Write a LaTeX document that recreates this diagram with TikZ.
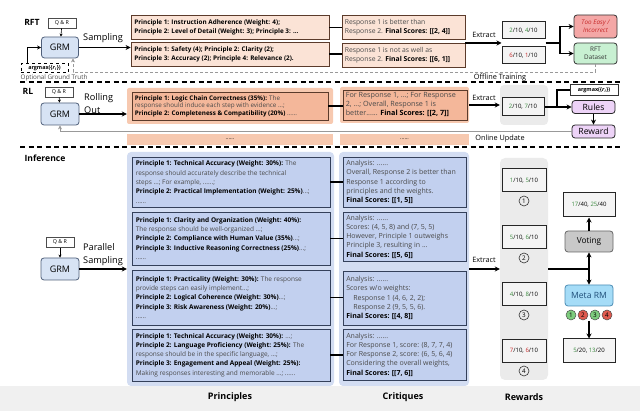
\documentclass[tikz,border=0pt]{standalone}
\usepackage{fontspec}
\setmainfont{Open Sans}
\usetikzlibrary{arrows.meta,calc}
\definecolor{grmfill}{HTML}{D7E3F4}
\definecolor{grmdraw}{HTML}{4F5F7A}
\definecolor{peach}{HTML}{FBE3D6}
\definecolor{bdraw}{HTML}{5B3B2B}
\definecolor{salmon}{HTML}{F4B79A}
\definecolor{salmonlt}{HTML}{F7C9B0}
\definecolor{panelblue}{HTML}{D3DDF2}
\definecolor{boxblue}{HTML}{C2D0EF}
\definecolor{bluedraw}{HTML}{34405A}
\definecolor{scorefill}{HTML}{F4F4F4}
\definecolor{panelgray}{HTML}{EBEBEB}
\definecolor{redbox}{HTML}{F4A7A6}
\definecolor{redtxt}{HTML}{C62828}
\definecolor{greenbox}{HTML}{C8F0D2}
\definecolor{greentxt}{HTML}{3A8A3E}
\definecolor{purp}{HTML}{EDD3F7}
\definecolor{votegray}{HTML}{C8C8C8}
\definecolor{metablue}{HTML}{A5DCF7}
\definecolor{metadraw}{HTML}{4C8DB5}
\definecolor{metatxt}{HTML}{1F4E79}
\definecolor{txtgray}{HTML}{4A4A4A}
\definecolor{bandgray}{HTML}{F0F0F0}
\definecolor{dotgreen}{HTML}{7DCB7D}
\definecolor{dotred}{HTML}{E05A4F}
\newcommand{\myfs}[2]{\fontsize{#1}{#2}\selectfont}
\newcommand{\gn}[1]{\textcolor{greentxt}{#1}}
\newcommand{\rd}[1]{\textcolor{redtxt}{#1}}
\newcommand{\bk}[1]{\textbf{\color{black}#1}}
\tikzset{
  arr/.style={line width=1.1pt, -{Stealth[length=5pt,width=5pt]}},
  thinarr/.style={line width=0.6pt, -{Stealth[length=3pt,width=3pt]}},
  ln/.style={line width=1.1pt},
  grayln/.style={draw=gray!80, line width=0.6pt, -{Stealth[length=4pt,width=4pt]}},
  qr/.style={draw=black!70, line width=0.6pt, fill=white, minimum width=28pt, minimum height=10pt, inner sep=0pt, font=\myfs{5.3}{6}},
  grm/.style={draw=grmdraw, fill=grmfill, line width=0.8pt, rounded corners=3pt, minimum width=37pt, minimum height=21pt, inner sep=0pt, font=\myfs{9}{10}},
  sect/.style={font=\bfseries\myfs{8.6}{10}, inner sep=0pt},
  biglbl/.style={font=\myfs{9.2}{12.5}, align=left, anchor=west, inner sep=0pt},
  midlbl/.style={font=\myfs{7.3}{8.5}, inner sep=0pt},
  pkbox/.style={draw=bdraw, fill=peach, line width=0.8pt, inner sep=0pt},
  txt/.style={anchor=west, align=left, inner sep=0pt, text=txtgray},
  score/.style={draw=black!85, fill=scorefill, line width=1pt, inner sep=0pt, font=\myfs{6}{7}},
  sepline/.style={line width=1.1pt, dash pattern=on 5pt off 3.5pt},
  pb/.style={draw=bluedraw, fill=boxblue, line width=0.8pt, minimum width=198pt, inner sep=0pt},
  cb/.style={draw=bluedraw, fill=boxblue, line width=0.8pt, minimum width=123pt, inner sep=0pt},
  ptxt/.style={txt, font=\myfs{6.5}{9.3}},
  ctxt/.style={txt, font=\myfs{7}{9.3}},
  numc/.style={circle, draw=black!80, line width=0.6pt, minimum size=10pt, inner sep=0pt, font=\myfs{6.3}{7}},
  dot/.style={circle, draw=black!70, line width=0.5pt, minimum size=10pt, inner sep=0pt, font=\myfs{6.3}{7}},
}
\begin{document}
\begin{tikzpicture}[x=1pt,y=-1pt]
\useasboundingbox (0,0) rectangle (640,411);
\fill[bandgray] (0,386) rectangle (640,411);

% ---------------- RFT ----------------
\node[sect] (rftlbl) at (32,22) {RFT};
\node[qr] (qr1) at (62,23) {Q \& R};
\node[grm] (grm1) at (60,47.5) {GRM};
\node[draw=black, dashed, line width=0.7pt, fill=white, minimum width=47pt, minimum height=9.5pt, inner sep=0pt, font=\bfseries\myfs{5.4}{6}] (am1) at (44.5,68) {argmax(\{\textit{r}\textsubscript{\textit{i}}\})};
\node[font=\myfs{6.3}{7}, text=txtgray, inner sep=0pt] (ogt) at (54,77.5) {Optional Ground Truth};
\node[biglbl] (samp) at (83,38) {Sampling};
\draw[thinarr] (qr1) -- (grm1);
\draw[line width=0.8pt, -{Stealth[length=4pt,width=4pt]}] ([xshift=-17pt]am1.north) |- (grm1.west);

\node[pkbox, minimum width=198pt, minimum height=23.5pt] (rp1) at (230,27.5) {};
\node[txt, text=black, font=\bfseries\myfs{6.35}{9}] (rp1t) at ([xshift=3.5pt]rp1.west) {Principle 1: Instruction Adherence (Weight: 4);\\Principle 2: Level of Detail (Weight: 3); Principle 3: ...};
\node[pkbox, minimum width=198pt, minimum height=24pt] (rp2) at (230,54) {};
\node[txt, text=black, font=\bfseries\myfs{6.35}{9}] (rp2t) at ([xshift=3.5pt]rp2.west) {Principle 1: Safety (4); Principle 2: Clarity (2);\\Principle 3: Accuracy (2); Principle 4: Relevance (2).};
\draw[arr] (grm1.east) -- (grm1.east -| rp2.west);

\node[pkbox, minimum width=123pt, minimum height=24pt] (rc1) at (403.5,27) {};
\node[txt, font=\myfs{6.8}{9}] (rc1t) at ([xshift=3pt]rc1.west) {Response 1 is better than\\Response 2. \bk{Final Scores: [[2, 4]]}};
\node[pkbox, minimum width=123pt, minimum height=24pt] (rc2) at (403.5,55) {};
\node[txt, font=\myfs{6.8}{9}] (rc2t) at ([xshift=3pt]rc2.west) {Response 1 is not as well as\\Response 2. \bk{Final Scores: [[6, 1]]}};
\draw[ln] (rp1.east) -- (rp1.east -| rc1.west);
\draw[ln] (rp2.east) -- (rp2.east -| rc2.west);

\node[score, minimum width=43pt, minimum height=17pt] (rs1) at (523.5,30.5) {\gn{2}/10, \gn{4}/10};
\node[score, minimum width=43pt, minimum height=17pt] (rs2) at (523.5,55.5) {\rd{6}/10, \rd{1}/10};
\coordinate (rgapw) at ($(rs1.south west)!0.5!(rs2.north west)$);
\coordinate (rgape) at ($(rs1.south east)!0.5!(rs2.north east)$);
\coordinate (rcgap) at ($(rc1.south east)!0.5!(rc2.north east)$);
\node[midlbl] (ext1) at (484,35) {Extract};
\draw[arr] (rcgap |- rgapw) -- (rgapw);
\node[draw=black!80, fill=redbox, rounded corners=3pt, line width=0.8pt, minimum width=43pt, minimum height=23pt, align=center, inner sep=0pt, font=\itshape\myfs{6.3}{8.5}, text=redtxt] (easy) at (595.5,26.5) {Too Easy /\\Incorrect};
\node[draw=black!80, fill=greenbox, rounded corners=3pt, line width=0.8pt, minimum width=43pt, minimum height=21pt, align=center, inner sep=0pt, font=\myfs{6.3}{8.5}, text=black!80] (rftd) at (595.5,53.5) {RFT\\Dataset};
\coordinate (rj) at (560,43);
\draw[ln] (rgape) -- (rj);
\draw[arr] (rj) |- (easy.west);
\draw[arr] (rj) |- (rftd.west);
\draw[grayln, densely dashed] (rftd.south) -- ++(0,7.5) -| ([xshift=13pt]grm1.south);
\node[midlbl] (offt) at (500,77.5) {Offline Training};

\draw[sepline] (20,82) -- (622,82);

% ---------------- RL ----------------
\node[sect] (rllbl) at (28,91) {RL};
\node[qr] (qr2) at (59,92) {Q \& R};
\node[grm, minimum width=38pt, minimum height=22pt] (grm2) at (60,114) {GRM};
\draw[thinarr] (qr2) -- (grm2);
\node[biglbl] (roll) at (84,103.5) {Rolling\\Out};
\node[fill=salmonlt, rounded corners=2pt, minimum width=206pt, minimum height=36pt] (rlpp) at (230,106) {};
\node[draw=bdraw, fill=salmon, line width=0.8pt, minimum width=196pt, minimum height=28pt] (rlp) at (230,106) {};
\node[txt, font=\myfs{6.3}{7.6}] (rlpt) at ([xshift=3pt]rlp.west) {\bk{Principle 1: Logic Chain Correctness (35\%):} The\\response should induce each step with evidence ...;\\\bk{Principle 2: Completeness \& Compatibility (20\%)} ......};
\draw[arr] (grm2.east) -- (grm2.east -| rlpp.west);
\node[fill=salmonlt, rounded corners=2pt, minimum width=129pt, minimum height=36pt] (rlcc) at (404.5,105) {};
\node[draw=bdraw, fill=salmon, line width=0.8pt, minimum width=124pt, minimum height=30pt] (rlc) at (405,105) {};
\node[txt, font=\myfs{7.2}{9}] (rlct) at ([xshift=3pt]rlc.west) {For Response 1, ...; For Response\\2, ...; Overall, Response 1 is\\better...... \bk{Final Scores: [[2, 7]]}};
\draw[ln] (rlp.east) -- (rlp.east -| rlc.west);
\node[fill=salmonlt, minimum width=206pt, minimum height=11pt, inner sep=0pt, font=\myfs{5.5}{7}] (rlps) at (230,139.5) {......};
\node[fill=salmonlt, minimum width=129pt, minimum height=11pt, inner sep=0pt, font=\myfs{5.5}{7}] (rlcs) at (404.5,139.5) {......};

\node[midlbl] (ext2) at (484,98) {Extract};
\node[fill=panelgray, rounded corners=4pt, minimum width=48pt, minimum height=40pt] (rlsp) at (524,105) {};
\node[score, minimum width=42pt, minimum height=18pt] (rls) at (523,107) {\gn{2}/10, \gn{7}/10};
\draw[arr] (rlcc.east) -- (rlsp.west);
\node[draw=black!80, line width=0.7pt, fill=white, minimum width=48pt, minimum height=11pt, inner sep=0pt, font=\bfseries\myfs{5.4}{6}] (am2) at (594,90) {argmax(\{\textit{r}\textsubscript{\textit{i}}\})};
\node[draw=black!85, fill=purp, rounded corners=3pt, line width=0.8pt, minimum width=43pt, minimum height=13pt, inner sep=0pt, font=\myfs{8.6}{10}] (rules) at (593.5,107) {Rules};
\node[draw=black!85, fill=purp, rounded corners=3pt, line width=0.8pt, minimum width=43pt, minimum height=13pt, inner sep=0pt, font=\myfs{8.6}{10}] (reward) at (593.5,131.5) {Reward};
\coordinate (rlj) at (557,107);
\draw[ln] (rls.east) -- (rlj);
\draw[arr] (rlj) -- (rules.west);
\draw[ln] (rlj) |- (am2.west);
\draw[arr] (rules.south) -- (reward.north);
\draw[grayln] (reward.west) -| (grm2.south);
\node[midlbl] (onu) at (500,138.5) {Online Update};

\draw[sepline] (20,147) -- (622,147);

% ---------------- Inference ----------------
\node[sect] (inflbl) at (45,158) {Inference};
\node[qr] (qr3) at (60,242.5) {Q \& R};
\node[grm, minimum width=38pt, minimum height=22pt] (grm3) at (60,269) {GRM};
\draw[thinarr] (qr3) -- (grm3);
\node[biglbl] (par) at (83,254.5) {Parallel\\Sampling};

\node[fill=panelblue, rounded corners=4pt, minimum width=207pt, minimum height=234pt] (ppan) at (230.5,269) {};
\node[fill=panelblue, rounded corners=4pt, minimum width=130pt, minimum height=234pt] (cpan) at (404,269) {};
\node[fill=panelgray, rounded corners=5pt, minimum width=48pt, minimum height=222pt] (rpan) at (524,269) {};
\draw[arr] (grm3.east) -- (ppan.west);

\node[pb, minimum height=50pt] (p1) at (231,182) {};
\node[ptxt] (p1t) at ([xshift=4pt]p1.west) {\bk{Principle 1: Technical Accuracy (Weight: 30\%):} The\\response should accurately describe the technical\\steps ...; For example, ......;\\\bk{Principle 2: Practical Implementation (Weight: 25\%)}...;\\......};
\node[pb, minimum height=53pt] (p2) at (231,238.5) {};
\node[ptxt] (p2t) at ([xshift=4pt]p2.west) {\bk{Principle 1: Clarity and Organization (Weight: 40\%):}\\The response should be well-organized ...;\\\bk{Principle 2: Compliance with Human Value (35\%)}...;\\\bk{Principle 3: Inductive Reasoning Correctness (25\%)}...;\\......};
\node[pb, minimum height=55pt] (p3) at (231,297.5) {};
\node[ptxt] (p3t) at ([xshift=4pt]p3.west) {\bk{Principle 1: Practicality (Weight: 30\%):} The response\\provide steps can easily implement...;\\\bk{Principle 2: Logical Coherence (Weight: 30\%)}...;\\\bk{Principle 3: Risk Awareness (Weight: 20\%)}...;\\......};
\node[pb, minimum height=52pt] (p4) at (231,355) {};
\node[ptxt] (p4t) at ([xshift=4pt]p4.west) {\bk{Principle 1: Technical Accuracy (Weight: 30\%):} ...;\\\bk{Principle 2: Language Proficiency (Weight: 25\%):} The\\response should be in the specific language, ...;\\\bk{Principle 3: Engagement and Appeal (Weight: 25\%):}\\Making responses interesting and memorable ...; ......};

\node[cb, minimum height=50pt] (c1) at (404.5,182) {};
\node[ctxt] (c1t) at ([xshift=3.5pt]c1.west) {Analysis: ......\\Overall, Response 2 is better than\\Response 1 according to\\principles and the weights.\\\bk{Final Scores: [[1, 5]]}};
\node[cb, minimum height=49pt] (c2) at (404.5,236.5) {};
\node[ctxt] (c2t) at ([xshift=3.5pt]c2.west) {Analysis: ......\\Scores: (4, 5, 8) and (7, 5, 5)\\However, Principle 1 outweighs\\Principle 3, resulting in ...\\\bk{Final Scores: [[5, 6]]}};
\node[cb, minimum height=54pt] (c3) at (404.5,298) {};
\node[ctxt] (c3t) at ([xshift=3.5pt]c3.west) {Analysis: ......\\Scores w/o weights:\\\hspace*{7pt}Response 1 (4, 6, 2, 2);\\\hspace*{7pt}Response 2 (9, 5, 5, 6).\\\bk{Final Scores: [[4, 8]]}};
\node[cb, minimum height=51pt] (c4) at (404.5,354.5) {};
\node[ctxt] (c4t) at ([xshift=3.5pt]c4.west) {Analysis: ......\\For Response 1, score: (8, 7, 7, 4)\\For Response 2, score: (6, 5, 6, 4)\\Considering the overall weights,\\\bk{Final Scores: [[7, 6]]}};

\draw[ln] (p1.east) -- (p1.east -| c1.west);
\draw[ln] (p2.east) -- (p2.east -| c2.west);
\draw[ln] (p3.east) -- (p3.east -| c3.west);
\draw[ln] (p4.east) -- (p4.east -| c4.west);

\node[midlbl] (ext3) at (484,259.5) {Extract};
\draw[arr] (cpan.east) -- (rpan.west);

\node[score, minimum width=44pt, minimum height=23pt] (s1) at (524,180.5) {\gn{1}/10, \gn{5}/10};
\node[numc] (n1) at (524,201) {1};
\node[score, minimum width=44pt, minimum height=23pt] (s2) at (524,237.5) {\gn{5}/10, \gn{6}/10};
\node[numc] (n2) at (524,258) {2};
\node[score, minimum width=44pt, minimum height=23pt] (s3) at (524,294.5) {\gn{4}/10, \gn{8}/10};
\node[numc] (n3) at (524,315) {3};
\node[score, minimum width=44pt, minimum height=23pt] (s4) at (524,351) {\rd{7}/10, \rd{6}/10};
\node[numc] (n4) at (524,371) {4};

\coordinate (vj) at (589,269);
\draw[ln] (rpan.east) -- (vj);
\node[draw=black!60, fill=votegray, rounded corners=3pt, line width=0.8pt, minimum width=48pt, minimum height=21pt, inner sep=0pt, font=\myfs{8.3}{10}] (vote) at (589,241.5) {Voting};
\node[score, minimum width=52pt, minimum height=24pt] (vres) at (589,205) {\gn{17}/40, \gn{25}/40};
\node[draw=metadraw, fill=metablue, rounded corners=3pt, line width=0.8pt, minimum width=48pt, minimum height=21pt, inner sep=0pt, font=\myfs{8.6}{10}, text=metatxt] (meta) at (589,295.5) {Meta RM};
\draw[arr] (vj) -- (vote.south);
\draw[arr] (vote.north) -- (vres.south);
\draw[arr] (vj) -- (meta.north);
\node[dot, fill=dotgreen] (d1) at (571,315) {1};
\node[dot, fill=dotred] (d2) at (583,315) {2};
\node[dot, fill=dotgreen] (d3) at (595,315) {3};
\node[dot, fill=dotred] (d4) at (607,315) {4};
\node[score, minimum width=52pt, minimum height=24pt] (mres) at (589,351) {\gn{5}/20, \gn{13}/20};
\coordinate (mo) at (589,321);
\draw[arr] (mo) -- (mres.north);

\node[font=\bfseries\myfs{9}{11}, inner sep=0pt] (plbl) at (230,397) {Principles};
\node[font=\bfseries\myfs{9}{11}, inner sep=0pt] (clbl) at (403,397) {Critiques};
\node[font=\bfseries\myfs{9}{11}, inner sep=0pt] (wlbl) at (524,397) {Rewards};
\end{tikzpicture}
\end{document}
